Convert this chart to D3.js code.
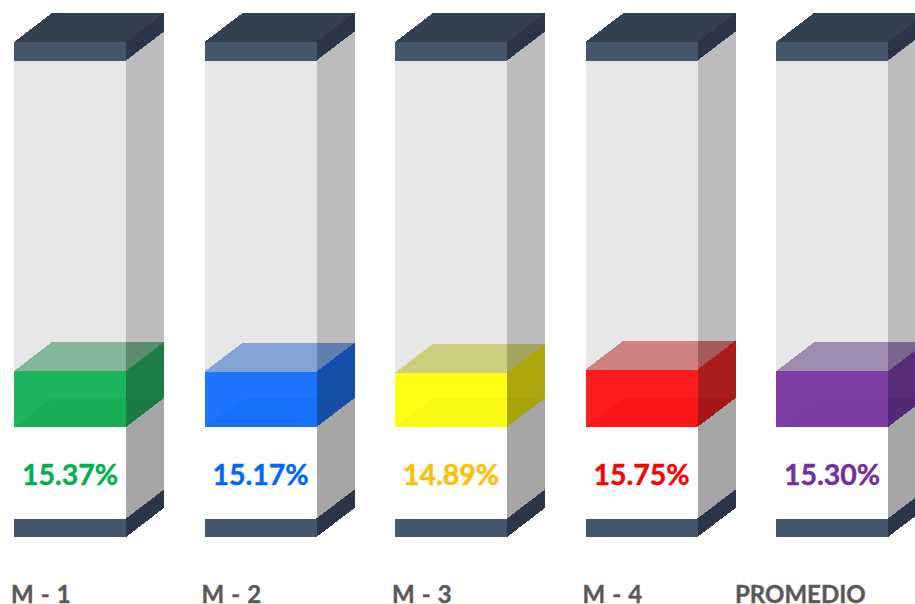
<!DOCTYPE html>
<html lang="en">
<head>
<meta charset="utf-8">
<title>Promedio</title>
<script src="https://d3js.org/d3.v7.min.js"></script>
<style>
  html, body { margin: 0; padding: 0; background: #fff; overflow: hidden; }
  text { font-family: Lato, "Open Sans", sans-serif; font-weight: 700; }
  polygon { shape-rendering: crispEdges; }
</style>
</head>
<body>
<script>
// data
var categories = ["M - 1", "M - 2", "M - 3", "M - 4", "PROMEDIO"];
var values = [15.37, 15.17, 14.89, 15.75, 15.30];

// palette, one entry per column
var frontColors = ["#1ab45c", "#1a75ff", "#ffff14", "#ff1a1a", "#7f3ea6"];
var sideColors = ["#1c7d47", "#1650ab", "#aba711", "#ab1a1a", "#552d74"];
var topColors = ["#82b898", "#82a3d3", "#cfce7f", "#cf8080", "#a08bb0"];
var topSideColors = ["#5c8d70", "#5f7fae", "#a5a45c", "#a65a5a", "#7a6590"];
var labelColors = ["#00b050", "#0066ff", "#ffc000", "#ff0000", "#7030a0"];
var categoryShift = [-3, -3, -3, -3, -41];

var w = 915,
    h = 604,
    boxW = 112,     // front face width
    dx = 38,        // depth offset
    dy = 29,
    capH = 18.5,
    tubeTop = 42,
    tubeBottom = 537;

var x = d3.scalePoint().domain(categories).range([14, 776]);
var y = d3.scaleLinear().domain([0, 100]).range([427, 63]);

var svg = d3.select("body").append("svg")
    .attr("width", w)
    .attr("height", h)
    .style("display", "block");

var defs = svg.append("defs");
defs.append("filter").attr("id", "soft")
    .attr("x", "-5%").attr("y", "-5%").attr("width", "110%").attr("height", "110%")
  .append("feGaussianBlur").attr("stdDeviation", 0.7);

function poly(g, pts, fill) {
  return g.append("polygon")
    .attr("points", pts.map(function(p) { return p.join(","); }).join(" "))
    .attr("fill", fill);
}

var columns = svg.selectAll("g.column")
    .data(categories)
    .enter()
    .append("g")
    .attr("class", "column")
    .attr("filter", "url(#soft)")
    .each(function(d, i) {
      var g = d3.select(this),
          x0 = x(d),
          x1 = x0 + boxW,
          x2 = x1 + dx,
          base = y(0),
          lvl = y(values[i]),
          capTop = tubeTop + capH,
          capBot = tubeBottom - capH;

      // glass body
      poly(g, [[x0, capTop], [x1, capTop], [x1, base], [x0, base]], "#e7e7e7");
      poly(g, [[x1, capTop], [x2, capTop - dy], [x2, base - dy], [x1, base]], "#bcbcbc");
      poly(g, [[x1, base], [x2, base - dy], [x2, capBot - dy], [x1, capBot]], "#a6a6a6");

      // liquid block
      poly(g, [[x0, lvl], [x0 + dx, lvl - dy], [x1, lvl - dy], [x1, lvl]], topColors[i]);
      poly(g, [[x1, lvl], [x1, lvl - dy], [x2, lvl - dy]], topSideColors[i]);
      poly(g, [[x1, lvl], [x2, lvl - dy], [x2, base - dy], [x1, base]], sideColors[i]);
      poly(g, [[x0, lvl], [x1, lvl], [x1, base], [x0, base]], frontColors[i]);
      // faint floor of the block seen through the front
      poly(g, [[x0, base], [x0 + dx, base - dy], [x2, base - dy], [x1, base]], "#000").attr("opacity", 0.025);

      // top cap
      poly(g, [[x0, tubeTop], [x0 + dx, tubeTop - dy], [x2, tubeTop - dy], [x1, tubeTop]], "#333f50");
      poly(g, [[x1, tubeTop], [x2, tubeTop - dy], [x2, capTop - dy], [x1, capTop]], "#2b3646");
      poly(g, [[x0, tubeTop], [x1, tubeTop], [x1, capTop], [x0, capTop]], "#44546a");

      // bottom cap
      poly(g, [[x1, capBot], [x2, capBot - dy], [x2, tubeBottom - dy], [x1, tubeBottom]], "#2b3646");
      poly(g, [[x0, capBot], [x1, capBot], [x1, tubeBottom], [x0, tubeBottom]], "#44546a");
    });

svg.selectAll("text.value")
    .data(values)
    .enter()
    .append("text")
    .attr("class", "value")
    .attr("x", function(d, i) { return x(categories[i]) + boxW / 2; })
    .attr("y", 484.5)
    .attr("text-anchor", "middle")
    .attr("font-size", 28.5)
    .attr("fill", function(d, i) { return labelColors[i]; })
    .attr("stroke", function(d, i) { return labelColors[i]; })
    .attr("stroke-width", 0.4)
    .text(function(d) { return d.toFixed(2) + "%"; });

svg.selectAll("text.cat")
    .data(categories)
    .enter()
    .append("text")
    .attr("class", "cat")
    .attr("x", function(d, i) { return x(d) + categoryShift[i]; })
    .attr("y", 603)
    .attr("font-size", 24)
    .attr("word-spacing", 1.2)
    .attr("fill", "#595959")
    .attr("stroke", "#595959")
    .attr("stroke-width", 0.4)
    .text(function(d) { return d; });
</script>
</body>
</html>
